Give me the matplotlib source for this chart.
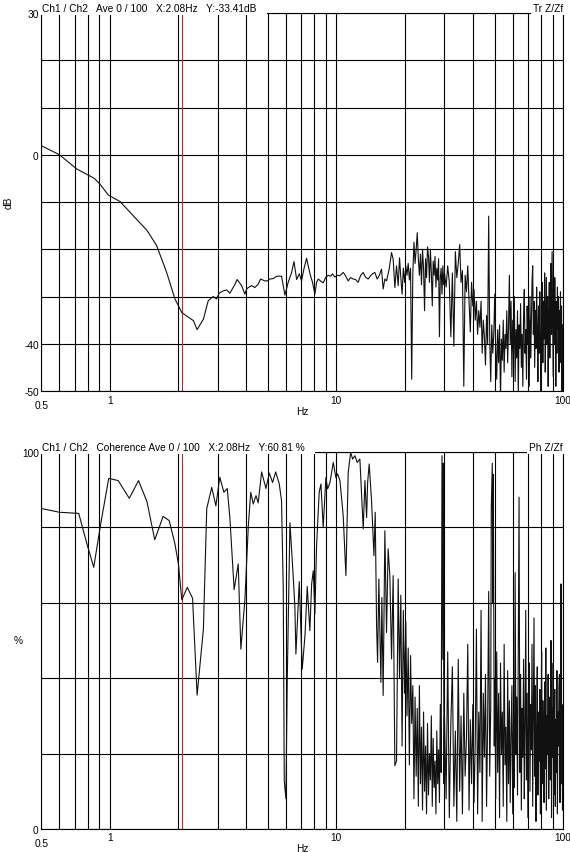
import matplotlib
matplotlib.use("Agg")
import matplotlib.pyplot as plt

plt.rcParams['font.family'] = ['Liberation Sans', 'DejaVu Sans']

# Transfer function Z/Zf, magnitude in dB
tf_freq = [0.50, 0.60, 0.715, 0.855, 0.905, 0.985, 1.11, 1.27, 1.46, 1.61,
           1.78, 1.94, 2.08, 2.18, 2.34, 2.43, 2.59, 2.72, 2.86, 2.96,
           3.04, 3.17, 3.28, 3.39, 3.57, 3.65, 3.82, 3.95, 4.02, 4.09,
           4.23, 4.37, 4.52, 4.63, 4.84, 4.95, 5.09, 5.27, 5.45, 5.73,
           5.83, 5.93, 6.13, 6.35, 6.50, 6.68, 6.86, 7.02, 7.19, 7.39,
           7.51, 7.69, 7.85, 8.04, 8.18, 8.32, 8.51, 8.75, 8.99, 9.20,
           9.42, 9.62, 9.85, 10.08, 10.36, 10.72, 10.98, 11.28, 11.55, 11.87,
           12.15, 12.48, 12.78, 13.13, 13.45, 13.82, 14.15, 14.44, 14.79, 15.14,
           15.45, 15.82, 16.09, 16.37, 16.65, 17.10, 17.52, 17.81, 18.12, 18.43,
           18.74,
           19.0, 19.25, 19.5, 19.75, 20.0, 20.25, 20.5, 20.75, 21.0, 21.25,
           21.5, 21.75, 22.0, 22.25, 22.5, 22.75, 23.0, 23.25, 23.5, 23.75,
           24.0, 24.25, 24.5, 24.75, 25.0, 25.25, 25.5, 25.75, 26.0, 26.25,
           26.5, 26.75, 27.0, 27.25, 27.5, 27.75, 28.0, 28.25, 28.5, 28.75,
           29.0, 29.25, 29.5, 29.75, 30.0,
           30.5, 31.0, 31.5, 32.0, 32.5, 33.0, 33.5, 34.0, 34.5, 35.0,
           35.5, 36.0, 36.5, 37.0, 37.5, 38.0, 38.5, 39.0, 39.5, 40.0,
           40.5, 41.0, 41.5, 42.0, 42.5, 43.0, 43.5, 44.0, 44.5, 45.0,
           45.5, 46.0, 46.5, 47.0, 47.5, 48.0, 48.5, 49.0, 49.5, 50.0,
           50.5, 51.0, 51.5, 52.0, 52.5, 53.0, 53.5, 54.0, 54.5, 55.0,
           55.5, 56.0, 56.5, 57.0, 57.5, 58.0, 58.5, 59.0, 59.5, 60.0,
           60.5, 61.0, 61.5, 62.0, 62.5, 63.0, 63.5, 64.0, 64.5, 65.0,
           65.5, 66.0, 66.5, 67.0, 67.5, 68.0, 68.5, 69.0, 69.5, 70.0,
           70.5, 71.0, 71.5, 72.0, 72.5, 73.0, 73.5, 74.0, 74.5, 75.0,
           75.5, 76.0, 76.5, 77.0, 77.5, 78.0, 78.5, 79.0, 79.5, 80.0,
           80.5, 81.0, 81.5, 82.0, 82.5, 83.0, 83.5, 84.0, 84.5, 85.0,
           85.5, 86.0, 86.5, 87.0, 87.5, 88.0, 88.5, 89.0, 89.5, 90.0,
           90.5, 91.0, 91.5, 92.0, 92.5, 93.0, 93.5, 94.0, 94.5, 95.0,
           95.5, 96.0, 96.5, 97.0, 97.5, 98.0, 98.5, 99.0, 99.5, 100.0]
tf_db = [1.9, 0.0, -3.0, -5.0, -6.2, -8.5, -9.9, -12.9, -16.0, -19.2,
         -24.8, -30.5, -33.4, -34.1, -35.1, -37.0, -34.8, -30.9, -30.0, -30.5,
         -29.3, -28.8, -28.6, -29.3, -27.4, -26.4, -27.7, -29.5, -28.4, -28.1,
         -27.7, -28.1, -27.4, -26.3, -26.7, -26.7, -26.3, -26.2, -25.7, -25.7,
         -27.7, -29.7, -27.0, -24.9, -22.6, -26.4, -25.2, -26.7, -24.2, -21.9,
         -23.5, -25.6, -27.0, -29.5, -27.0, -26.3, -26.7, -27.1, -25.9, -25.5,
         -25.7, -25.2, -25.9, -25.5, -25.6, -24.9, -25.6, -26.7, -26.0, -26.3,
         -26.4, -27.0, -25.6, -24.9, -25.9, -26.3, -25.6, -25.2, -24.9, -26.3,
         -25.6, -24.2, -28.4, -26.3, -26.7, -24.2, -20.7, -22.1, -28.1, -23.5,
         -27.7,
         -21.8, -26, -29.5, -24, -27, -23.5, -25.5, -23, -26.5, -24,
         -47.5, -25, -18.5, -23, -20, -16.5, -22, -25.5, -21, -27.5,
         -20, -24, -33, -22, -26, -19.5, -21.5, -27, -20, -25,
         -32, -22.5, -25.5, -21.5, -28, -24, -26.5, -22, -38.5, -26,
         -24, -29.5, -23.5, -27.5, -25,
         -28, -23.5, -27, -38.5, -25, -40.5, -20.5, -26, -23, -19,
         -27, -24.5, -49, -25.5, -29, -23.5, -31, -37.5, -27, -32,
         -28.5, -35, -31, -38, -33, -36.5, -31, -42, -35, -38.5,
         -44.5, -34, -40, -13, -39, -48, -36, -42, -38, -29.5,
         -41, -47.5, -37, -44, -36, -52, -39, -43.5, -35, -46,
         -38, -41, -33, -44, -36.5, -25.5, -40, -31, -47, -35,
         -42, -30, -48, -37, -43, -33, -51, -36, -41, -31.5,
         -45, -38, -49, -34, -28.5, -42, -37, -47.5, -32, -40,
         -35, -49, -30, -43, -36, -27, -23.5, -38, -31, -45,
         -33, -41, -28, -37, -48, -32, -42, -29, -38, -52,
         -34, -27, -44, -31, -39, -25, -46, -33, -26, -40,
         -30, -49, -35, -27, -43, -31, -23, -38, -20.5, -33,
         -47, -29, -40, -26, -36, -49, -31, -42, -28, -37,
         -30, -46, -33, -39, -29, -44, -32, -51, -36, -45]

# Coherence, percent
coh_freq = [0.50, 0.60, 0.73, 0.79, 0.85, 0.91, 0.99, 1.09, 1.22, 1.34,
            1.46, 1.58, 1.72, 1.83, 1.94, 2.01, 2.08, 2.20, 2.32, 2.43,
            2.59, 2.68, 2.82, 2.94, 3.06, 3.19, 3.30, 3.39, 3.54, 3.69,
            3.79, 3.95, 4.09, 4.19, 4.30, 4.42, 4.52, 4.68, 4.89, 5.06,
            5.23, 5.40, 5.60, 5.73, 5.83, 5.89, 5.99, 6.07, 6.24, 6.41,
            6.56, 6.63, 6.86, 7.07, 7.27, 7.44, 7.64, 7.78, 7.91, 8.04,
            8.18, 8.40, 8.55, 8.75, 8.99, 9.15, 9.37, 9.69, 9.95, 10.13,
            10.37, 10.72, 11.02, 11.28, 11.56, 11.80, 12.08, 12.36, 12.70, 13.14,
            13.37, 13.60, 13.74, 13.96, 14.30, 14.65, 14.84, 15.05, 15.20, 15.40,
            15.72, 15.88, 16.09, 16.37, 16.65, 16.92, 17.22, 17.52, 17.81, 18.12,
            18.43, 18.74,
            19.0, 19.25, 19.5, 19.75, 20.0, 20.25, 20.5, 20.75, 21.0, 21.25,
            21.5, 21.75, 22.0, 22.25, 22.5, 22.75, 23.0, 23.25, 23.5, 23.75,
            24.0, 24.25, 24.5, 24.75, 25.0, 25.25, 25.5, 25.75, 26.0, 26.25,
            26.5, 26.75, 27.0, 27.25, 27.5, 27.75, 28.0, 28.25, 28.5, 28.75,
            29.0, 29.25, 29.5, 29.6, 29.85, 30.0,
            30.5, 31.0, 31.5, 32.0, 32.5, 33.0, 33.5, 34.0, 34.5, 35.0,
            35.5, 36.0, 36.5, 37.0, 37.5, 38.0, 38.5, 39.0, 39.5, 40.0,
            40.5, 41.0, 41.5, 42.0, 42.5, 43.0, 43.5, 44.0, 44.5, 45.0,
            45.5, 46.0, 46.5, 47.0, 47.5, 48.0,
            48.25, 48.75, 49.0, 49.25, 49.75,
            50.0, 50.5, 51.0, 51.5, 52.0, 52.5, 53.0, 53.5, 54.0, 54.5,
            55.0, 55.5, 56.0, 56.5, 57.0, 57.5, 58.0, 58.5, 59.0, 59.5,
            60.0, 60.5, 61.0, 61.5, 62.0, 62.5, 63.0, 63.5, 64.0, 64.5,
            65.0, 65.5, 66.0, 66.5, 67.0, 67.5, 68.0, 68.5, 69.0, 69.5,
            70.0, 70.5, 71.0, 71.5, 72.0, 72.5, 73.0, 73.5, 74.0, 74.5,
            75.0, 75.5, 76.0, 76.5, 77.0, 77.5, 78.0, 78.5, 79.0, 79.5,
            80.0, 80.5, 81.0, 81.5, 82.0, 82.5, 83.0, 83.5, 84.0, 84.5,
            85.0, 85.5, 86.0, 86.5, 87.0, 87.5, 88.0, 88.5, 89.0, 89.5,
            90.0, 90.5, 91.0, 91.5, 92.0, 92.5, 93.0, 93.5, 94.0, 94.5,
            95.0, 95.5, 96.0, 96.5, 97.0, 97.5, 98.0, 98.5, 99.0, 99.5,
            100.0]
coh_pct = [85.0, 84.0, 83.7, 76.0, 69.4, 80.5, 93.0, 92.4, 87.7, 92.4,
           86.8, 76.7, 82.9, 81.8, 75.6, 70.3, 60.8, 64.1, 61.2, 35.5,
           53.0, 85.0, 90.6, 85.7, 93.3, 89.3, 90.3, 82.5, 63.5, 70.3,
           47.7, 61.0, 80.5, 89.3, 86.2, 88.4, 86.5, 94.7, 90.3, 94.4,
           91.9, 94.7, 91.5, 87.0, 63.7, 12.8, 8.0, 38.9, 81.2, 69.8,
           59.2, 46.4, 65.6, 42.4, 51.3, 64.3, 52.6, 65.0, 68.5, 57.0,
           75.1, 89.3, 91.5, 80.0, 93.2, 90.2, 91.9, 97.2, 93.2, 94.2,
           92.4, 83.1, 67.2, 94.6, 99.9, 98.1, 99.0, 97.2, 98.1, 79.6,
           92.4, 82.6, 91.9, 96.8, 87.0, 72.5, 84.0, 53.9, 44.2, 66.3,
           38.9, 61.4, 35.4, 79.1, 52.1, 74.3, 67.2, 45.1, 67.2, 16.8,
           18.1, 66.3,
           40, 62, 22, 58, 36, 55, 30, 48, 17, 46,
           28, 38, 8, 35, 14, 32, 6, 38, 12, 27,
           5, 31, 10, 22, 4, 28, 9, 20, 13, 30,
           6, 24, 11, 18, 4, 26, 12, 21, 7, 33,
           15, 99, 45, 97, 12, 30,
           8, 47, 3, 28, 43, 6, 26, 2, 45, 10,
           30, 4, 36, 14, 24, 49, 5, 29, 12, 33,
           7, 23, 53, 4, 31, 15, 58, 2, 36, 19,
           41, 6, 28, 63, 14, 33,
           85, 97, 60, 94, 22,
           40, 8, 47, 15, 36, 3, 44, 20, 31, 6,
           49, 17, 27, 2, 42, 12, 34, 7, 25, 38,
           4, 30, 11, 68, 20, 35, 9, 47, 88, 15,
           41, 5, 32, 19, 45, 8, 27, 58, 13, 36,
           3, 29, 44, 10, 33, 21, 49, 6, 30, 56,
           14, 38, 2, 26, 43, 9, 31, 18, 37, 4,
           28, 47, 12, 34, 22, 7, 39, 16, 48, 5,
           30, 20, 41, 8, 27, 35, 13, 50, 3, 32,
           19, 44, 9, 25, 37, 6, 29, 15, 42, 4,
           31, 22, 38, 41, 7, 27, 65, 12, 33, 5,
           24]

cursor_hz = 2.08
grid_hz = [0.5, 0.6, 0.7, 0.8, 0.9, 1, 2, 3, 4, 5, 6, 7, 8, 9,
           10, 20, 30, 40, 50, 60, 70, 80, 90, 100]
hz_labels = {1: '1', 10: '10', 100: '100'}

tf_yticks = [-50, -40, -30, -20, -10, 0, 10, 20, 30]
tf_ylabels = ['-50', '-40', '', '', '', '0', '', '', '30']
coh_yticks = [0, 20, 40, 60, 80, 100]
coh_ylabels = ['0', '', '', '', '', '100']

FS = 7.3
INK = '#111111'

fig = plt.figure(figsize=(5.7, 8.53), dpi=100)
ax1 = fig.add_axes([0.0728, 0.5404, 0.9149, 0.4432])
ax2 = fig.add_axes([0.0728, 0.0270, 0.9149, 0.4420])


def setup(ax, yticks, ylabels, ylim, header, right):
    ax.set_xscale('log')
    ax.set_xlim(0.5, 100)
    ax.set_ylim(*ylim)
    ax.set_xticks(grid_hz)
    ax.set_xticklabels([hz_labels.get(g, '') for g in grid_hz])
    ax.set_xticks([0.5], ['0.5'], minor=True)
    ax.xaxis.remove_overlapping_locs = False
    ax.tick_params(axis='x', which='major', length=0, pad=2.5, labelsize=FS)
    ax.tick_params(axis='x', which='minor', length=0, pad=6.5, labelsize=FS)
    ax.set_yticks(yticks)
    ax.set_yticklabels(ylabels)
    ax.tick_params(axis='y', length=0, pad=2, labelsize=FS)
    ax.grid(True, which='major', color='black', linewidth=0.8)
    ax.set_axisbelow(True)
    for s in ax.spines.values():
        s.set_linewidth(0.8)
    ax.axvline(cursor_hz, color='#c8282d', linewidth=0.8, zorder=3)
    box = dict(boxstyle='square,pad=0.2', fc='white', ec='none')
    ax.text(0.001, 1.0, header, transform=ax.transAxes, ha='left', va='bottom',
            fontsize=FS, bbox=box, zorder=10, clip_on=False)
    ax.text(1.0, 1.0, right, transform=ax.transAxes, ha='right', va='bottom',
            fontsize=FS, bbox=box, zorder=10, clip_on=False)
    ax.set_xlabel('Hz', fontsize=FS)


setup(ax1, tf_yticks, tf_ylabels, (-50, 30),
      'Ch1 / Ch2   Ave 0 / 100   X:2.08Hz   Y:-33.41dB   ', 'Tr Z/Zf')
ax1.plot(tf_freq, tf_db, color=INK, linewidth=0.8, zorder=4)
ax1.set_ylabel('dB', fontsize=FS)
ax1.yaxis.set_label_coords(-0.053, 0.5)
ax1.xaxis.set_label_coords(0.5, -0.040)

setup(ax2, coh_yticks, coh_ylabels, (0, 100),
      'Ch1 / Ch2   Coherence Ave 0 / 100   X:2.08Hz   Y:60.81 %   ', 'Ph Z/Zf')
ax2.plot(coh_freq, coh_pct, color=INK, linewidth=0.8, zorder=4)
ax2.set_ylabel('%', fontsize=FS, rotation=0, va='center')
ax2.yaxis.set_label_coords(-0.045, 0.5)
ax2.xaxis.set_label_coords(0.5, -0.037)

fig.savefig('out.png', dpi=100)
